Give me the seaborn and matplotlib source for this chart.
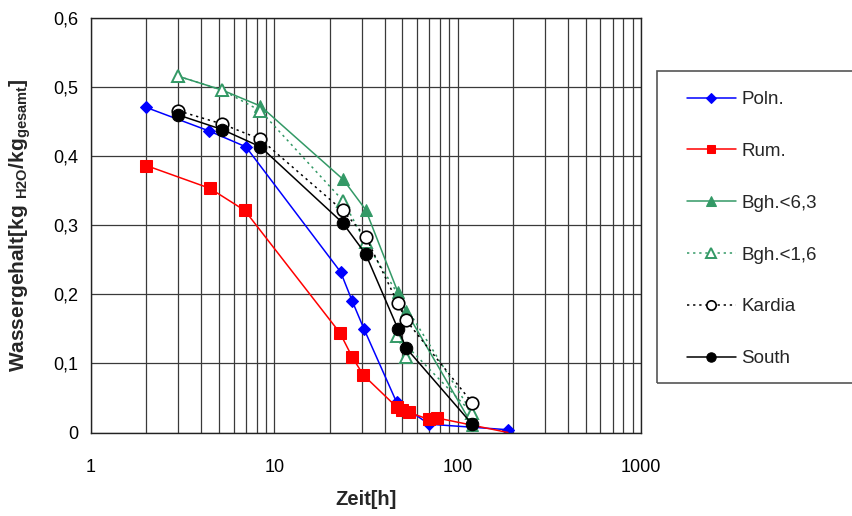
import matplotlib
matplotlib.use("Agg")
import matplotlib.pyplot as plt
from matplotlib.patches import Rectangle
from matplotlib.ticker import FixedLocator, FuncFormatter, LogLocator, NullFormatter
import numpy as np
import pandas as pd
import seaborn as sns

# Drying curves: moisture content over time for six samples
poln_t = [2, 4.4, 7, 23, 26.6, 30.8, 46.4, 70, 188]
poln_w = [0.47, 0.436, 0.413, 0.232, 0.19, 0.15, 0.044, 0.012, 0.004]

rum_t = [2, 4.45, 6.9, 22.8, 26.6, 30.6, 46.4, 49.8, 54.2, 69.6, 77.2, 188]
rum_w = [0.386, 0.353, 0.321, 0.144, 0.109, 0.083, 0.037, 0.033, 0.029, 0.019, 0.021, 0.0]

bgh63_t = [3, 5.2, 8.4, 23.7, 31.5, 47.2, 52.4, 120]
bgh63_w = [0.515, 0.495, 0.472, 0.366, 0.322, 0.203, 0.175, 0.011]

bgh16_t = [3, 5.2, 8.4, 23.7, 31.5, 120, 46.6, 52.4]
bgh16_w = [0.515, 0.495, 0.465, 0.335, 0.275, 0.028, 0.14, 0.109]

kardia_t = [3, 5.2, 8.4, 23.6, 31.5, 47.2, 52.4, 120]
kardia_w = [0.465, 0.446, 0.424, 0.321, 0.283, 0.187, 0.162, 0.043]

south_t = [3, 5.2, 8.4, 23.6, 31.5, 47.2, 52.4, 120]
south_w = [0.459, 0.438, 0.413, 0.303, 0.258, 0.150, 0.122, 0.012]

y_ticks = [0, 0.1, 0.2, 0.3, 0.4, 0.5, 0.6]
x_ticks = [1, 10, 100, 1000]

sns.set_theme(style="white")
plt.rcParams["font.family"] = ["Liberation Sans", "DejaVu Sans"]
plt.rcParams["mathtext.fontset"] = "custom"
plt.rcParams["mathtext.rm"] = "Liberation Sans"
plt.rcParams["mathtext.bf"] = "Liberation Sans:bold"

fig = plt.figure(figsize=(8.53, 5.16), dpi=100)
ax = fig.add_axes([91 / 853, (516 - 432.5) / 516, 550 / 853, 415 / 516])

green = "#339966"
series = [
    ("Poln.", poln_t, poln_w, dict(color="#0000FF", ls="-", marker="D", ms=6.5, mfc="#0000FF", mec="#0000FF")),
    ("Rum.", rum_t, rum_w, dict(color="#FF0000", ls="-", marker="s", ms=8.5, mfc="#FF0000", mec="#FF0000",
                                markevery=list(range(len(rum_t) - 1)))),
    ("Bgh.<6,3", bgh63_t, bgh63_w, dict(color=green, ls="-", marker="^", ms=9, mfc=green, mec=green)),
    ("Bgh.<1,6", bgh16_t, bgh16_w, dict(color=green, ls=(0, (1.5, 2.5)), marker="^", ms=9, mfc="white", mec=green, mew=1.4)),
    ("Kardia", kardia_t, kardia_w, dict(color="black", ls=(0, (1.5, 2.5)), marker="o", ms=9, mfc="white", mec="black", mew=1.2)),
    ("South", south_t, south_w, dict(color="black", ls="-", marker="o", ms=9, mfc="black", mec="black")),
]

for name, t, w, style in series:
    df = pd.DataFrame({"Zeit": t, "Wasser": w})
    ls = style.pop("ls")
    sns.lineplot(data=df, x="Zeit", y="Wasser", sort=False, estimator=None, ax=ax,
                 label=name, lw=1.1, linestyle=ls, **style)

ax.set_xscale("log")
ax.set_xlim(1, 1000)
ax.set_ylim(0, 0.6)

ax.xaxis.set_major_locator(FixedLocator(x_ticks))
ax.xaxis.set_minor_locator(LogLocator(base=10, subs=np.arange(2, 10)))
ax.xaxis.set_minor_formatter(NullFormatter())
ax.xaxis.set_major_formatter(FuncFormatter(lambda v, p: f"{v:g}"))
ax.yaxis.set_major_locator(FixedLocator(y_ticks))
ax.yaxis.set_major_formatter(FuncFormatter(lambda v, p: "0" if v == 0 else f"{v:.1f}".replace(".", ",")))

grid_c = "#3a3a3a"
ax.grid(True, which="major", axis="both", color=grid_c, lw=0.9)
ax.grid(True, which="minor", axis="x", color=grid_c, lw=0.9)
ax.set_axisbelow(True)

for side, sp in ax.spines.items():
    sp.set_color("#222222")
    sp.set_linewidth(1.0)

ax.tick_params(axis="both", which="both", direction="out", colors="black", labelsize=13)
ax.tick_params(axis="y", which="major", length=5, width=0.8, pad=4)
ax.tick_params(axis="x", which="major", length=5, width=0.8, pad=14)
ax.tick_params(axis="x", which="minor", length=3, width=0.8)

ax.set_xlabel("Zeit[h]", fontsize=14.5, fontweight="bold", labelpad=10)
ax.set_ylabel(r"Wassergehalt[kg $_{\mathbf{H2O}}$/kg$_{\mathbf{gesamt}}$]", fontsize=15,
              fontweight="bold")
ax.yaxis.set_label_coords(-0.105, 0.5)

handles, labels = ax.get_legend_handles_labels()
ax.get_legend().remove()
fig.patches.append(Rectangle((657 / 853, (516 - 383) / 516), 0.3, 312 / 516,
                             transform=fig.transFigure, fill=False,
                             edgecolor="#555555", lw=1.2))
fig.legend(handles, labels, loc="upper left", bbox_to_anchor=(687 / 853, 1 - 91 / 516),
           frameon=False, fontsize=13.5, handlelength=2.6, handletextpad=0.3,
           labelspacing=1.85, markerscale=0.75, borderaxespad=0, borderpad=0)

fig.savefig("out.png", dpi=100)
